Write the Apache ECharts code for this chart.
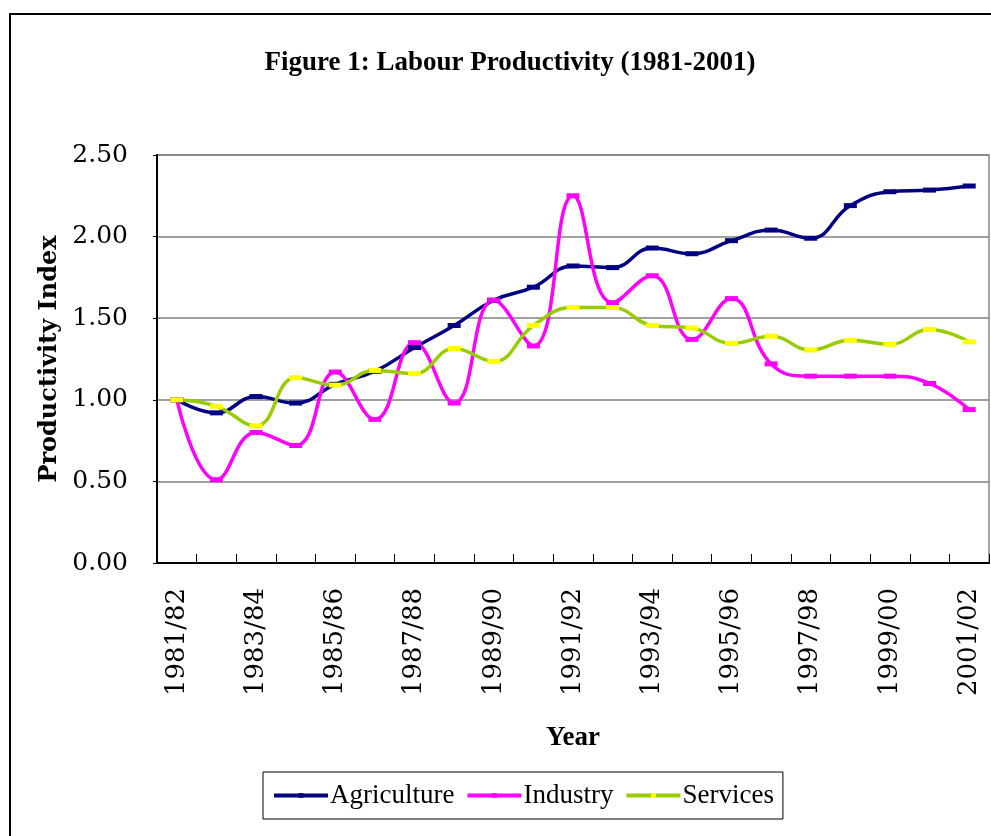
<!DOCTYPE html>
<html>
<head>
<meta charset="utf-8">
<script src="https://cdn.jsdelivr.net/npm/echarts@6/dist/echarts.min.js"></script>
<style>
  html, body { margin: 0; padding: 0; background: #fff; }
  #chart { width: 991px; height: 836px; }
</style>
</head>
<body>
<div id="chart"></div>
<script>
const years = ["1981/82", "1982/83", "1983/84", "1984/85", "1985/86", "1986/87", "1987/88",
  "1988/89", "1989/90", "1990/91", "1991/92", "1992/93", "1993/94", "1994/95", "1995/96",
  "1996/97", "1997/98", "1998/99", "1999/00", "2000/01", "2001/02"];
const agriculture = [1.00, 0.92, 1.02, 0.98, 1.095, 1.175, 1.32, 1.455, 1.61, 1.69, 1.82,
  1.81, 1.93, 1.895, 1.975, 2.04, 1.99, 2.19, 2.275, 2.285, 2.31];
const industry = [1.00, 0.51, 0.80, 0.72, 1.17, 0.88, 1.35, 0.98, 1.61, 1.33, 2.25,
  1.595, 1.76, 1.37, 1.62, 1.22, 1.145, 1.145, 1.145, 1.10, 0.94];
const services = [1.00, 0.96, 0.84, 1.135, 1.09, 1.18, 1.16, 1.315, 1.235, 1.455, 1.565,
  1.565, 1.455, 1.44, 1.345, 1.39, 1.305, 1.365, 1.34, 1.43, 1.355];

const serif = "Liberation Serif";
// wider face for the tracked-out axis text
const wide = "DejaVu Serif";

function lineSeries(name, data, lineColor, markColor) {
  return {
    name: name,
    type: "line",
    data: data,
    smooth: 0.45,
    symbol: "rect",
    symbolSize: [13, 5],
    showAllSymbol: true,
    lineStyle: { color: lineColor, width: 3.5 },
    itemStyle: { color: markColor },
    emphasis: { disabled: true }
  };
}

const chart = echarts.init(document.querySelector("#chart"), null, { renderer: "canvas" });
chart.setOption({
  animation: false,
  backgroundColor: "#fff",
  title: {
    text: "Figure 1: Labour Productivity (1981-2001)",
    left: 505,
    textAlign: "center",
    top: 45,
    textStyle: { fontFamily: serif, fontWeight: "bold", fontSize: 27, color: "#000" }
  },
  graphic: [
    {
      type: "rect",
      shape: { x: 10, y: 14, width: 1000, height: 840 },
      style: { fill: null, stroke: "#000", lineWidth: 2 },
      silent: true
    }
  ],
  legend: {
    left: 263,
    top: 772,
    padding: [10, 9, 10, 9],
    borderColor: "#000",
    borderWidth: 1,
    itemWidth: 54,
    itemHeight: 6,
    itemGap: 11,
    lineStyle: { width: 4 },
    textStyle: { fontFamily: serif, fontSize: 27, color: "#000", padding: [0, 0, 0, -3] },
    data: ["Agriculture", "Industry", "Services"]
  },
  grid: {
    left: 157,
    right: 2,
    top: 155,
    bottom: 273,
    show: true,
    borderColor: "#888",
    borderWidth: 1.5
  },
  xAxis: {
    type: "category",
    data: years,
    boundaryGap: true,
    name: "Year",
    nameLocation: "middle",
    nameGap: 162,
    nameTextStyle: { fontFamily: serif, fontWeight: "bold", fontSize: 27, color: "#000" },
    axisLine: { lineStyle: { color: "#000", width: 2 } },
    axisTick: { show: true, inside: true, length: 9, interval: 0, lineStyle: { color: "#000", width: 1 } },
    axisLabel: {
      interval: 1,
      rotate: 90,
      margin: 25,
      fontFamily: wide,
      fontSize: 26,
      color: "#000"
    },
    splitLine: { show: false }
  },
  yAxis: {
    type: "value",
    min: 0,
    max: 2.5,
    interval: 0.5,
    name: "Productivity Index",
    nameLocation: "middle",
    nameGap: 90,
    nameTextStyle: { fontFamily: wide, fontWeight: "bold", fontSize: 24, color: "#000" },
    axisLine: { show: true, lineStyle: { color: "#000", width: 2 } },
    axisTick: { show: true, length: 4, lineStyle: { color: "#000" } },
    axisLabel: {
      margin: 29,
      fontFamily: wide,
      fontSize: 25,
      color: "#000",
      formatter: v => v.toFixed(2)
    },
    splitLine: { lineStyle: { color: "#808080", width: 1.5 } }
  },
  series: [
    lineSeries("Agriculture", agriculture, "#000080", "#000080"),
    lineSeries("Industry", industry, "#FF00FF", "#FF00FF"),
    lineSeries("Services", services, "#99CC00", "#FFFF00")
  ]
});
</script>
</body>
</html>
